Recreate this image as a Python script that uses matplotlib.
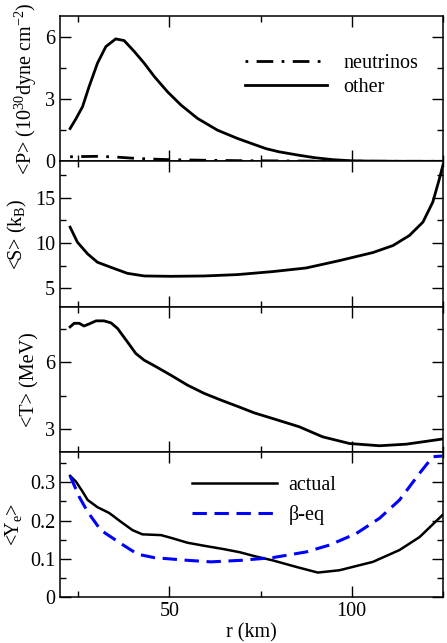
import numpy as np
import matplotlib
matplotlib.use('Agg')
import matplotlib.pyplot as plt
from matplotlib.ticker import MultipleLocator

plt.rcParams['font.family'] = ['Liberation Serif', 'DejaVu Serif']
plt.rcParams['mathtext.fontset'] = 'custom'
plt.rcParams['mathtext.rm'] = 'Liberation Serif'
plt.rcParams['mathtext.it'] = 'Liberation Serif:italic'
plt.rcParams['font.size'] = 14.5

# pressure (10^30 dyne cm^-2)
r_p = [22.8, 24.4, 26.2, 28.0, 30.3, 32.6, 35.3, 37.6, 40.4, 43.1, 45.9, 49.5,
       53.2, 57.7, 63.2, 68.7, 73.3, 76.5, 80.0, 85.6, 90.0, 94.8, 99.4, 105.0, 115.0, 125.0]
p_other = [1.58, 2.05, 2.63, 3.6, 4.73, 5.53, 5.9, 5.82, 5.29, 4.73, 4.08, 3.35,
           2.71, 2.07, 1.50, 1.10, 0.81, 0.61, 0.46, 0.29, 0.17, 0.08, 0.03, 0.01, 0.0, 0.0]
r_nu = [22.8, 26.0, 30.0, 35.0, 40.0, 45.0, 50.0, 60.0, 70.0, 80.0, 90.0, 100.0, 110.0, 125.0]
p_nu = [0.22, 0.23, 0.24, 0.21, 0.15, 0.11, 0.08, 0.05, 0.03, 0.02, 0.01, 0.005, 0.0, 0.0]

# entropy (k_B)
r_s = [22.8, 24.8, 27.6, 30.3, 34.0, 38.5, 43.1, 50.4, 59.6, 68.7, 78.3, 87.5,
       96.6, 105.8, 111.3, 115.8, 119.5, 122.2, 123.9, 125.0]
s_val = [11.75, 10.09, 8.8, 7.88, 7.32, 6.66, 6.37, 6.33, 6.37, 6.52, 6.85, 7.25,
         8.06, 8.95, 9.72, 10.83, 12.3, 14.5, 16.9, 18.6]

# temperature (MeV)
r_t = [22.8, 23.9, 25.3, 26.6, 28.0, 29.9, 32.1, 34.0, 35.8, 38.5, 40.8, 43.1,
       45.9, 50.4, 55.0, 59.6, 64.2, 68.9, 73.3, 78.3, 85.6, 92.0, 99.4, 107.6, 114.9, 124.8]
t_val = [7.59, 7.75, 7.75, 7.63, 7.72, 7.86, 7.86, 7.77, 7.52, 6.92, 6.40, 6.1,
         5.85, 5.43, 4.98, 4.61, 4.31, 4.02, 3.74, 3.49, 3.12, 2.67, 2.37, 2.27, 2.34, 2.57]

# electron fraction
r_ye = [22.8, 24.4, 26.2, 27.6, 30.3, 33.5, 36.7, 39.9, 42.6, 47.7, 50.4, 55.0,
        59.6, 65.1, 69.4, 73.3, 78.3, 84.7, 90.7, 96.6, 105.8, 113.1, 118.6, 124.8]
ye_actual = [0.317, 0.302, 0.276, 0.254, 0.235, 0.220, 0.197, 0.175, 0.164, 0.162, 0.155, 0.142,
             0.134, 0.125, 0.117, 0.107, 0.096, 0.079, 0.064, 0.070, 0.092, 0.123, 0.157, 0.214]
r_beq = [22.8, 25.3, 27.6, 31.2, 36.7, 41.3, 45.9, 55.0, 61.4, 69.6, 78.3, 87.5,
         93.9, 101.2, 107.6, 113.1, 118.6, 122.2, 124.8]
ye_beq = [0.317, 0.262, 0.223, 0.175, 0.140, 0.112, 0.103, 0.096, 0.092, 0.096, 0.103, 0.118,
          0.136, 0.166, 0.206, 0.254, 0.324, 0.367, 0.369]

fig, axes = plt.subplots(4, 1, figsize=(4.47, 6.43), dpi=100, sharex=True)
fig.subplots_adjust(left=0.134, right=0.991, bottom=0.0715, top=0.975, hspace=0)

ax1, ax2, ax3, ax4 = axes

ax1.plot(r_nu, p_nu, color='black', lw=2, dashes=[1, 3, 6, 3], label='neutrinos')
ax1.plot(r_p, p_other, color='black', lw=2, label='other')
ax1.set_ylim(0, 7)
ax1.yaxis.set_major_locator(MultipleLocator(3))
ax1.yaxis.set_minor_locator(MultipleLocator(1.5))
ax1.set_ylabel('<P> (10$^{30}$dyne cm$^{-2}$)')
ax1.legend(loc='center left', bbox_to_anchor=(0.483, 0.59), frameon=False,
           borderpad=0, borderaxespad=0, handlelength=4.1, handletextpad=0.8,
           labelspacing=0.25)

ax2.plot(r_s, s_val, color='black', lw=2)
ax2.set_ylim(3, 19)
ax2.yaxis.set_major_locator(MultipleLocator(5))
ax2.yaxis.set_minor_locator(MultipleLocator(2.5))
ax2.set_ylabel('<S> (k$_\\mathrm{B}$)')

ax3.plot(r_t, t_val, color='black', lw=2)
ax3.set_ylim(2, 8.5)
ax3.yaxis.set_major_locator(MultipleLocator(3))
ax3.yaxis.set_minor_locator(MultipleLocator(1.5))
ax3.set_ylabel('<T> (MeV)')

ax4.plot(r_ye, ye_actual, color='black', lw=1.8, label='actual')
ax4.plot(r_beq, ye_beq, color='#0000ff', lw=2.2, dashes=[4.7, 2.5], label='β-eq')
ax4.set_ylim(0, 0.38)
ax4.yaxis.set_major_locator(MultipleLocator(0.1))
ax4.yaxis.set_minor_locator(MultipleLocator(0.05))
ax4.yaxis.set_major_formatter(matplotlib.ticker.FuncFormatter(lambda v, p: '0' if v == 0 else '%.1f' % v))
ax4.set_ylabel('<Y$_\\mathrm{e}$>')
ax4.set_xlabel('r (km)', labelpad=2)
ax4.legend(loc='center left', bbox_to_anchor=(0.345, 0.662), frameon=False,
           borderpad=0, borderaxespad=0, handlelength=4.2, handletextpad=0.6,
           labelspacing=0.5)

ax4.set_xlim(20, 125)
ax4.xaxis.set_major_locator(MultipleLocator(50))
ax4.xaxis.set_minor_locator(MultipleLocator(25))

for ax in axes:
    ax.tick_params(which='both', direction='in', top=True, right=True)
    ax.tick_params(which='major', length=8, width=1)
    ax.tick_params(which='minor', length=4.5, width=1)
    for sp in ax.spines.values():
        sp.set_linewidth(1.1)

fig.savefig('out.png', dpi=100)
